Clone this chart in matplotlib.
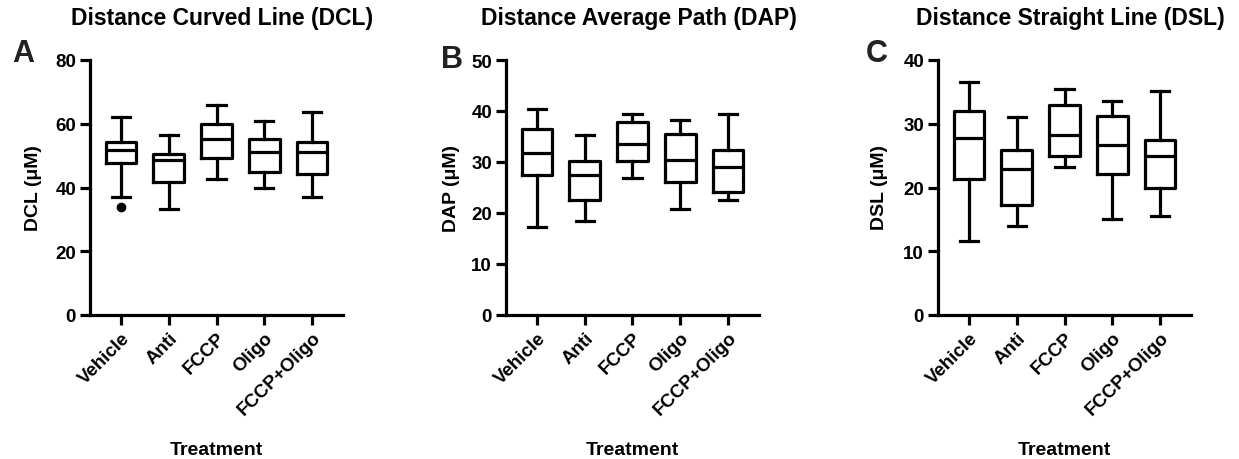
import matplotlib
matplotlib.use("Agg")
import matplotlib.pyplot as plt

plt.rcParams['font.family'] = ['Liberation Sans', 'DejaVu Sans']
plt.rcParams['font.weight'] = 'bold'

groups = ["Vehicle", "Anti", "FCCP", "Oligo", "FCCP+Oligo"]

# box stats per group: whisker low, Q1, median, Q3, whisker high
dcl_lo = [37.0, 33.3, 42.7, 39.9, 37.0]
dcl_q1 = [47.7, 41.7, 49.3, 45.0, 44.1]
dcl_med = [51.9, 48.5, 55.3, 51.1, 51.1]
dcl_q3 = [54.2, 50.6, 59.8, 55.1, 54.2]
dcl_hi = [62.1, 56.6, 66.0, 61.0, 63.7]
dcl_out = [[33.8], [], [], [], []]

dap_lo = [17.3, 18.5, 26.8, 20.8, 22.6]
dap_q1 = [27.5, 22.6, 30.1, 26.0, 24.1]
dap_med = [31.8, 27.5, 33.6, 30.3, 29.1]
dap_q3 = [36.5, 30.2, 37.8, 35.5, 32.3]
dap_hi = [40.4, 35.2, 39.5, 38.2, 39.5]
dap_out = [[], [], [], [], []]

dsl_lo = [11.6, 14.0, 23.2, 15.0, 15.6]
dsl_q1 = [21.4, 17.3, 25.0, 22.1, 19.9]
dsl_med = [27.8, 22.9, 28.3, 26.6, 24.9]
dsl_q3 = [32.0, 25.9, 33.0, 31.2, 27.5]
dsl_hi = [36.5, 31.0, 35.5, 33.5, 35.1]
dsl_out = [[], [], [], [], []]

panels = [
    ("A", "Distance Curved Line (DCL)", "DCL (μM)", 80, 20,
     dcl_lo, dcl_q1, dcl_med, dcl_q3, dcl_hi, dcl_out),
    ("B", "Distance Average Path (DAP)", "DAP (μM)", 50, 10,
     dap_lo, dap_q1, dap_med, dap_q3, dap_hi, dap_out),
    ("C", "Distance Straight Line (DSL)", "DSL (μM)", 40, 10,
     dsl_lo, dsl_q1, dsl_med, dsl_q3, dsl_hi, dsl_out),
]

W, H = 1239, 460
fig = plt.figure(figsize=(W / 100, H / 100), dpi=100)

ax_left = [90, 506, 938]
ax_w = 253
ax_top, ax_bot = 61, 316
letter_xy = [(12, 62), (441, 68), (866, 62)]
ylab_x = [33, 451, 879]

lw = 2.3
for i, (letter, title, ylab, ymax, ystep, lo, q1, med, q3, hi, out) in enumerate(panels):
    ax = fig.add_axes([ax_left[i] / W, (H - ax_bot) / H, ax_w / W, (ax_bot - ax_top) / H])
    stats = []
    for j, g in enumerate(groups):
        stats.append(dict(label=g, whislo=lo[j], q1=q1[j], med=med[j],
                          q3=q3[j], whishi=hi[j], fliers=out[j]))
    ax.bxp(stats, positions=range(1, 6), widths=0.64, capwidths=0.38,
           boxprops=dict(color="black", linewidth=lw),
           medianprops=dict(color="black", linewidth=lw),
           whiskerprops=dict(color="black", linewidth=lw),
           capprops=dict(color="black", linewidth=lw),
           flierprops=dict(marker="o", markerfacecolor="black",
                           markeredgecolor="black", markersize=6))
    ax.set_xlim(0.35, 5.65)
    ax.set_ylim(0, ymax)
    ax.set_yticks(range(0, ymax + 1, ystep))
    ax.set_xticks(range(1, 6))
    ax.set_xticklabels(groups, rotation=45, ha="right", rotation_mode="anchor",
                       fontsize=13.5, fontweight="bold")
    for t in ax.get_yticklabels():
        t.set_fontsize(13.5)
        t.set_fontweight("bold")
    ax.spines["top"].set_visible(False)
    ax.spines["right"].set_visible(False)
    for s in ("left", "bottom"):
        ax.spines[s].set_linewidth(lw)
    ax.tick_params(width=lw, length=7, pad=3)
    ax.set_xlabel("Treatment", fontsize=14, fontweight="bold")
    ax.xaxis.set_label_coords(0.5, -(447 - ax_bot) / (ax_bot - ax_top) + 0.02)
    ax.set_ylabel(ylab, fontsize=14, fontweight="bold")
    fig.text(ylab_x[i] / W, 1 - 188 / H, ylab, rotation=90, ha="center",
             va="center", fontsize=14, fontweight="bold")
    ax.yaxis.label.set_visible(False)
    fig.text((ax_left[i] + ax_w / 2 + 6) / W, 1 - 25 / H, title, ha="center",
             va="baseline", fontsize=16.5, fontweight="bold")
    fig.text(letter_xy[i][0] / W, 1 - letter_xy[i][1] / H, letter, ha="left",
             va="baseline", fontsize=22, fontweight="bold", color="#222222")

fig.savefig("out.png", dpi=100, facecolor="white")
